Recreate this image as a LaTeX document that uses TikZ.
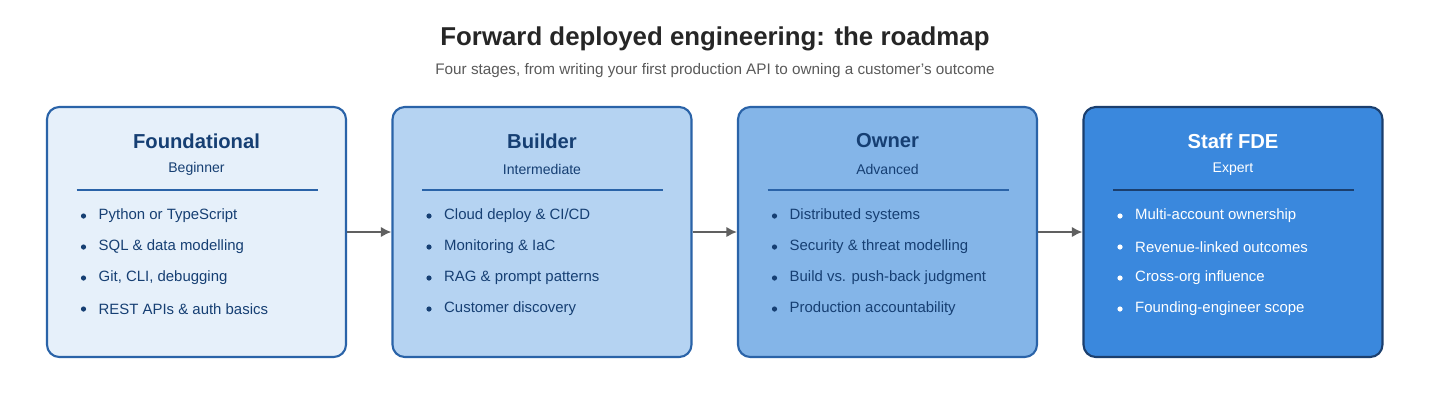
\documentclass[tikz,border=0pt]{standalone}
\usepackage{fontspec}
\setmainfont{Liberation Sans}
\usetikzlibrary{arrows.meta}

\definecolor{inkblue}{HTML}{163F73}
\definecolor{edgeblue}{HTML}{2A63A8}
\definecolor{fillA}{HTML}{E6F0FA}
\definecolor{fillB}{HTML}{B5D3F2}
\definecolor{fillC}{HTML}{84B5E8}
\definecolor{fillD}{HTML}{3A88DD}
\definecolor{darkedge}{HTML}{1B3F6E}
\definecolor{arrowgray}{HTML}{606060}

\tikzset{
  stage/.style={draw=edgeblue, line width=1.2pt, rounded corners=7pt,
    minimum width=299*0.02cm, minimum height=250*0.02cm, inner sep=0pt},
  heading/.style={font=\fontsize{11.5}{13}\selectfont\bfseries},
  level/.style={font=\fontsize{8}{10}\selectfont},
  item/.style={anchor=west, font=\fontsize{8.5}{10}\selectfont},
  flow/.style={-{Latex[length=6pt,width=6pt]}, draw=arrowgray, line width=1.2pt}
}

\begin{document}
\begin{tikzpicture}[x=0.02cm, y=-0.02cm]
    \useasboundingbox (0,0) rectangle (1430,417);

    % Title
    \node[font=\fontsize{14.7}{16}\selectfont\bfseries, text=black!85] (title) at (715,39) {Forward deployed engineering: the roadmap};
    \node[font=\fontsize{8.7}{10}\selectfont, text=black!65] (subtitle) at (715,71) {Four stages, from writing your first production API to owning a customer's outcome};

    % Stage boxes
    \node[stage, fill=fillA] (s1) at (196.5,232) {};
    \node[stage, fill=fillB] (s2) at (542,232) {};
    \node[stage, fill=fillC] (s3) at (887.5,232) {};
    \node[stage, fill=fillD, draw=darkedge] (s4) at (1233,232) {};

    % Headings, levels and dividers
    \foreach \s/\name/\lvl/\col/\rule in {s1/Foundational/Beginner/inkblue/edgeblue,
        s2/Builder/Intermediate/inkblue/edgeblue,
        s3/Owner/Advanced/inkblue/edgeblue,
        s4/Staff FDE/Expert/white/darkedge} {
        \node[heading, text=\col] (\s-head) at ([yshift=91*0.02cm]\s.center) {\name};
        \node[level, text=\col] (\s-level) at ([yshift=63*0.02cm]\s.center) {\lvl};
        \draw[\rule, line width=0.6pt] ([xshift=-120*0.02cm, yshift=42*0.02cm]\s.center) -- ([xshift=121*0.02cm, yshift=42*0.02cm]\s.center);
    }

    % Bullet lists
    \foreach \s/\col/\a/\b/\c/\d in {
        s1/inkblue/Python or TypeScript/SQL \& data modelling/{Git, CLI, debugging}/REST APIs \& auth basics,
        s2/inkblue/Cloud deploy \& CI\slash CD/Monitoring \& IaC/RAG \& prompt patterns/Customer discovery,
        s3/inkblue/Distributed systems/Security \& threat modelling/Build vs. push-back judgment/Production accountability,
        s4/white/Multi-account ownership/Revenue-linked outcomes/Cross-org influence/Founding-engineer scope} {
        \foreach \t [count=\i] in {\a,\b,\c,\d} {
            \fill[\col] ([xshift=-113*0.02cm, yshift={(16-31*(\i-1))*0.02cm}]\s.center) circle (2.6*0.02cm);
            \node[item, text=\col] (\s-item\i) at ([xshift=-104*0.02cm, yshift={(16-31*(\i-1))*0.02cm}]\s.center) {\t};
        }
    }

    % Arrows between stages
    \draw[flow] (s1.east) -- (s2.west);
    \draw[flow] (s2.east) -- (s3.west);
    \draw[flow] (s3.east) -- (s4.west);
\end{tikzpicture}
\end{document}
